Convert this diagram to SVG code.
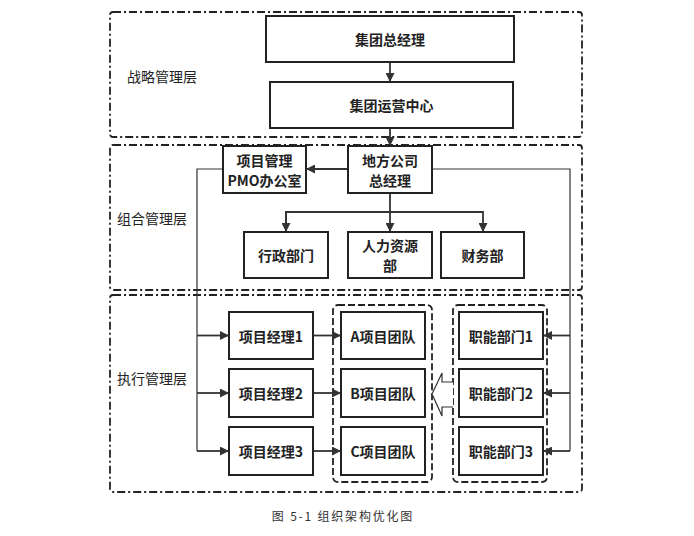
<svg xmlns="http://www.w3.org/2000/svg" width="694" height="536" viewBox="0 0 694 536">
<style>
.layer{fill:none;stroke:#222;stroke-width:1.8;stroke-dasharray:8 3 2 3}
.grp{fill:none;stroke:#222;stroke-width:1.8;stroke-dasharray:7 3}
.box{fill:#fff;stroke:#222;stroke-width:2}
.t{font-family:"Noto Sans CJK SC","Liberation Serif",serif;font-size:14px;font-weight:bold;fill:#222;text-anchor:middle;dominant-baseline:central}
.lbl{font-family:"Noto Sans CJK SC","Liberation Sans",sans-serif;font-size:14px;fill:#222;dominant-baseline:central}
.cap{font-family:"Noto Sans CJK SC","Liberation Serif",serif;font-size:12px;letter-spacing:1.8px;fill:#333;text-anchor:middle;dominant-baseline:central}
.c{fill:none;stroke:#333;stroke-width:1.8}
.thin{fill:none;stroke:#333;stroke-width:1.2}
</style>
<defs>
<marker id="ah" markerUnits="userSpaceOnUse" markerWidth="9" markerHeight="9" refX="9" refY="4.5" orient="auto">
<path d="M0,0 L9,4.5 L0,9 z" fill="#333"/>
</marker>
</defs>
<g id="layers">
<rect class="layer" x="110" y="12" width="472" height="125" rx="3"/>
<rect class="layer" x="110" y="145" width="472" height="145" rx="3"/>
<rect class="layer" x="110" y="295" width="472" height="197" rx="3"/>
<text class="lbl" x="127" y="76">战略管理层</text>
<text class="lbl" x="117" y="218">组合管理层</text>
<text class="lbl" x="117" y="378">执行管理层</text>
</g>
<g id="groups">
<rect class="grp" x="333" y="305" width="99" height="177" rx="5"/>
<rect class="grp" x="453" y="305" width="94" height="177" rx="5"/>
</g>
<g id="connectors">
<line class="c" x1="390" y1="62" x2="390" y2="82" marker-end="url(#ah)"/>
<line class="c" x1="390" y1="128" x2="390" y2="146" marker-end="url(#ah)"/>
<line class="c" x1="348" y1="169" x2="306" y2="169" marker-end="url(#ah)"/>
<polyline class="thin" points="223,169 197,169 197,451"/>
<polyline class="thin" points="432,169 570,169 570,451"/>
<line class="c" x1="390" y1="193" x2="390" y2="232" marker-end="url(#ah)"/>
<polyline class="c" points="286,232 286,212 483,212 483,232" marker-end="url(#ah)"/>
<line class="c" x1="286" y1="212" x2="286" y2="232" marker-end="url(#ah)"/>
<line class="c" x1="197" y1="335.5" x2="229" y2="335.5" marker-end="url(#ah)"/>
<line class="c" x1="197" y1="393" x2="229" y2="393" marker-end="url(#ah)"/>
<line class="c" x1="197" y1="451" x2="229" y2="451" marker-end="url(#ah)"/>
<line class="c" x1="313" y1="335.5" x2="341" y2="335.5" marker-end="url(#ah)"/>
<line class="c" x1="313" y1="393" x2="341" y2="393" marker-end="url(#ah)"/>
<line class="c" x1="313" y1="451" x2="341" y2="451" marker-end="url(#ah)"/>
<line class="c" x1="570" y1="335.5" x2="543" y2="335.5" marker-end="url(#ah)"/>
<line class="c" x1="570" y1="393" x2="543" y2="393" marker-end="url(#ah)"/>
<line class="c" x1="570" y1="451" x2="543" y2="451" marker-end="url(#ah)"/>
<path d="M453,382 L442,382 L442,373 L432,394 L442,416 L442,407 L453,407" fill="#fff" stroke="#333" stroke-width="1.2"/>
</g>
<g id="n1"><rect class="box" x="266" y="16" width="248" height="46"/><text class="t" x="390" y="39">集团总经理</text></g>
<g id="n2"><rect class="box" x="270" y="82" width="243" height="46"/><text class="t" x="391.5" y="105">集团运营中心</text></g>
<g id="n3"><rect class="box" x="223" y="146" width="83" height="47"/><text class="t" x="264.5" y="159.5">项目管理</text><text class="t" x="264.5" y="180">PMO办公室</text></g>
<g id="n4"><rect class="box" x="348" y="146" width="84" height="47"/><text class="t" x="390" y="159.5">地方公司</text><text class="t" x="390" y="180">总经理</text></g>
<g id="n5"><rect class="box" x="244" y="232" width="84" height="46"/><text class="t" x="286" y="255">行政部门</text></g>
<g id="n6"><rect class="box" x="348" y="232" width="84" height="46"/><text class="t" x="390" y="244.5">人力资源</text><text class="t" x="390" y="265">部</text></g>
<g id="n7"><rect class="box" x="441" y="232" width="83" height="46"/><text class="t" x="482.5" y="255">财务部</text></g>
<g id="pm1"><rect class="box" x="229" y="312" width="84" height="47"/><text class="t" x="271" y="335.5">项目经理1</text></g>
<g id="pm2"><rect class="box" x="229" y="369" width="84" height="48"/><text class="t" x="271" y="393">项目经理2</text></g>
<g id="pm3"><rect class="box" x="229" y="427" width="84" height="48"/><text class="t" x="271" y="451">项目经理3</text></g>
<g id="ta"><rect class="box" x="341" y="312" width="84" height="47"/><text class="t" x="383" y="335.5">A项目团队</text></g>
<g id="tb"><rect class="box" x="341" y="369" width="84" height="48"/><text class="t" x="383" y="393">B项目团队</text></g>
<g id="tc"><rect class="box" x="341" y="427" width="84" height="48"/><text class="t" x="383" y="451">C项目团队</text></g>
<g id="f1"><rect class="box" x="459" y="312" width="84" height="47"/><text class="t" x="501" y="335.5">职能部门1</text></g>
<g id="f2"><rect class="box" x="459" y="369" width="84" height="48"/><text class="t" x="501" y="393">职能部门2</text></g>
<g id="f3"><rect class="box" x="459" y="427" width="84" height="48"/><text class="t" x="501" y="451">职能部门3</text></g>
<text class="cap" x="343" y="515">图 5-1 组织架构优化图</text>
</svg>
